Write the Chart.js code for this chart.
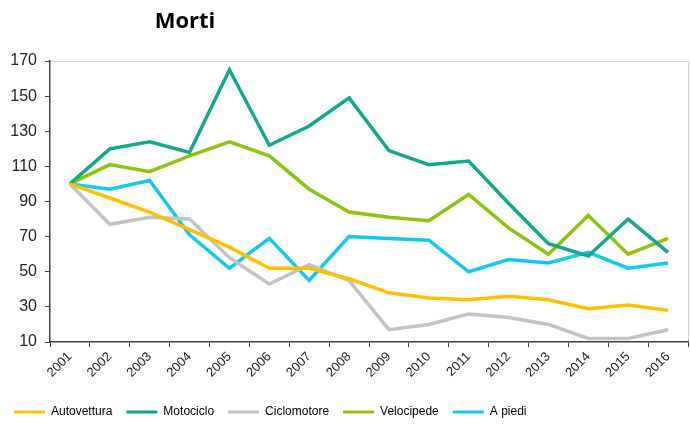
<!DOCTYPE html>
<html>
<head>
<meta charset="utf-8">
<script src="https://cdn.jsdelivr.net/npm/chart.js@4.4.1/dist/chart.umd.min.js"></script>
<style>
  html, body { margin: 0; padding: 0; background: #fff; }
  #wrap { width: 690px; height: 424px; }
</style>
</head>
<body>
<div id="wrap"><canvas id="chart"></canvas></div>
<script>
// anni
var anni = ['2001','2002','2003','2004','2005','2006','2007','2008','2009','2010','2011','2012','2013','2014','2015','2016'];

// indici (2001 = 100)
var autovettura = [100, 92, 84, 74, 64, 52, 52, 46, 38, 35, 34, 36, 34, 29, 31, 28];
var motociclo   = [100, 120, 124, 118, 165, 122, 133, 149, 119, 111, 113, 89, 66, 59, 80, 61];
var ciclomotore = [100, 77, 81, 80, 58, 43, 54, 45, 17, 20, 26, 24, 20, 12, 12, 17];
var velocipede  = [100, 111, 107, 116, 124, 116, 97, 84, 81, 79, 94, 75, 60, 82, 60, 69];
var aPiedi      = [100, 97, 102, 71, 52, 69, 45, 70, 69, 68, 50, 57, 55, 61, 52, 55];

var yTicks = [10, 30, 50, 70, 90, 110, 130, 150, 170];

function serie(nome, valori, colore) {
  return {
    label: nome,
    data: valori,
    borderColor: colore,
    backgroundColor: colore,
    borderWidth: 3.5,
    pointRadius: 0,
    tension: 0,
    fill: false
  };
}

// titolo spostato a sinistra come nell'originale
var titoloPlugin = {
  id: 'titolo',
  afterDraw: function(chart) {
    var ctx = chart.ctx;
    ctx.save();
    ctx.font = 'bold 22px "Open Sans", sans-serif';
    ctx.fillStyle = '#000';
    ctx.textAlign = 'center';
    ctx.textBaseline = 'middle';
    ctx.fillText('Morti', 185, 22);
    ctx.restore();
  }
};

new Chart(document.getElementById('chart'), {
  type: 'line',
  data: {
    labels: anni,
    datasets: [
      serie('Autovettura', autovettura, '#FFC000'),
      serie('Motociclo', motociclo, '#13A88E'),
      serie('Ciclomotore', ciclomotore, '#C3C3C3'),
      serie('Velocipede', velocipede, '#8CC412'),
      serie('A piedi', aPiedi, '#13C8F2')
    ]
  },
  options: {
    responsive: true,
    maintainAspectRatio: false,
    animation: false,
    layout: { padding: { top: 61, right: 2, left: 0, bottom: -4 } },
    plugins: {
      title: { display: false },
      tooltip: { enabled: false },
      legend: {
        position: 'bottom',
        align: 'start',
        labels: {
          font: { family: '"Liberation Sans", Arial, sans-serif', size: 12 },
          color: '#000',
          boxWidth: 31,
          boxHeight: 3,
          padding: 14,
          generateLabels: function(chart) {
            var items = Chart.defaults.plugins.legend.labels.generateLabels(chart);
            items.forEach(function(it) { it.lineWidth = 0; it.fillStyle = it.strokeStyle; });
            return items;
          }
        }
      }
    },
    scales: {
      x: {
        offset: true,
        afterFit: function(scale) { scale.height = 50; },
        grid: {
          offset: true,
          drawOnChartArea: true,
          color: function(c) { return c.tick ? 'rgba(0,0,0,0)' : '#D0D0D0'; },
          tickColor: '#404040',
          tickLength: 5
        },
        border: { color: '#404040', width: 1.5 },
        ticks: {
          minRotation: 45,
          maxRotation: 45,
          autoSkip: false,
          padding: 2,
          color: '#222',
          font: { family: '"Liberation Sans", Arial, sans-serif', size: 13 }
        }
      },
      y: {
        min: 10,
        max: 170,
        afterFit: function(scale) { scale.width = 50; },
        afterBuildTicks: function(scale) {
          scale.ticks = yTicks.map(function(v) { return { value: v }; });
        },
        grid: {
          color: function(c) { return c.tick && c.tick.value === 170 ? '#D0D0D0' : 'rgba(0,0,0,0)'; },
          tickColor: '#404040',
          tickLength: 5
        },
        border: { color: '#404040', width: 1.5 },
        ticks: {
          padding: 8,
          color: '#222',
          font: { family: '"Liberation Sans", Arial, sans-serif', size: 16 }
        }
      }
    }
  },
  plugins: [titoloPlugin]
});
</script>
</body>
</html>
